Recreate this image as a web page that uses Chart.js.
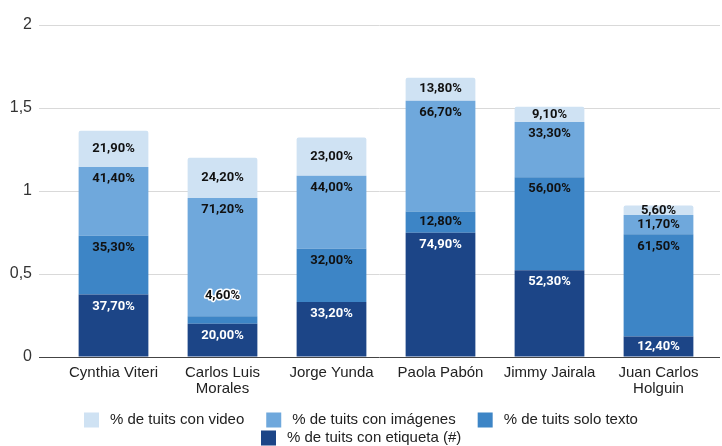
<!DOCTYPE html>
<html>
<head>
<meta charset="utf-8">
<script src="https://cdn.jsdelivr.net/npm/chart.js@4.4.1/dist/chart.umd.min.js"></script>
<style>
  html, body { margin: 0; padding: 0; background: #fff; }
  #wrap { width: 722px; height: 446px; }
</style>
</head>
<body>
<div id="wrap"><canvas id="barChart"></canvas></div>
<script>
// Datos del grafico
const candidatos = ['Cynthia Viteri', ['Carlos Luis', 'Morales'], 'Jorge Yunda', 'Paola Pabón', 'Jimmy Jairala', ['Juan Carlos', 'Holguin']];
const conEtiqueta = [0.377, 0.200, 0.332, 0.749, 0.523, 0.124];
const soloTexto = [0.353, 0.046, 0.320, 0.128, 0.560, 0.615];
const conImagenes = [0.414, 0.712, 0.440, 0.667, 0.333, 0.117];
const conVideo = [0.219, 0.242, 0.230, 0.138, 0.091, 0.056];
const yTicks = [0, 0.5, 1, 1.5, 2];

const fontAxis = '"Liberation Sans", Arial, sans-serif';

function pct(v) {
    return (v * 100).toFixed(2).replace('.', ',') + '%';
}

// lineas de la grilla, desde el borde del eje hasta el borde derecho
const gridPlugin = {
    id: 'gridLines',
    beforeDatasetsDraw(chart) {
        const ctx = chart.ctx;
        const y = chart.scales.y;
        const area = chart.chartArea;
        ctx.save();
        yTicks.forEach(function (t) {
            const py = Math.round(y.getPixelForValue(t)) + 0.5;
            ctx.strokeStyle = t === 0 ? '#444' : '#d9d9d9';
            ctx.lineWidth = 1;
            ctx.beginPath();
            ctx.moveTo(area.left - 20, py);
            ctx.lineTo(chart.width - 2, py);
            ctx.stroke();
        });
        ctx.restore();
    }
};

// etiquetas de valores dentro de las barras
const labelPlugin = {
    id: 'barLabels',
    afterDatasetsDraw(chart) {
        const ctx = chart.ctx;
        const last = chart.data.datasets.length - 1;
        ctx.save();
        ctx.font = 'bold 13px Roboto, "Liberation Sans", sans-serif';
        ctx.textAlign = 'center';
        ctx.textBaseline = 'middle';
        chart.data.datasets.forEach(function (ds, i) {
            const meta = chart.getDatasetMeta(i);
            meta.data.forEach(function (bar, j) {
                const h = bar.base - bar.y;
                const txt = pct(ds.data[j]);
                let ty;
                let halo = false;
                if (i === last) {
                    ty = bar.y + h / 2;
                } else if (h < 14) {
                    ty = bar.y - 20;
                    halo = true;
                } else {
                    ty = bar.y + Math.min(12, h / 2);
                }
                if (halo) {
                    ctx.lineWidth = 3;
                    ctx.strokeStyle = '#fff';
                    ctx.lineJoin = 'round';
                    ctx.strokeText(txt, bar.x, ty);
                }
                ctx.fillStyle = ds.labelColor;
                ctx.fillText(txt, bar.x, ty);
            });
        });
        ctx.restore();
    }
};

// leyenda dibujada abajo
const legendPlugin = {
    id: 'bottomLegend',
    afterDraw(chart) {
        const ctx = chart.ctx;
        const items = chart.data.datasets.slice().reverse();
        const box = 15, gapText = 11, gapItem = 22, maxRow = 620;
        ctx.save();
        ctx.font = '15px ' + fontAxis;
        ctx.textBaseline = 'middle';
        const rows = [[]];
        let rowW = 0;
        items.forEach(function (ds) {
            const w = box + gapText + ctx.measureText(ds.label).width;
            if (rows[rows.length - 1].length && rowW + gapItem + w > maxRow) {
                rows.push([]);
                rowW = 0;
            }
            rowW += (rowW ? gapItem : 0) + w;
            rows[rows.length - 1].push({ ds: ds, w: w });
        });
        let cy = chart.chartArea.bottom + 63;
        rows.forEach(function (row) {
            const total = row.reduce(function (s, it) { return s + it.w; }, 0) + gapItem * (row.length - 1);
            let x = Math.round(chart.width / 2 - total / 2);
            row.forEach(function (it) {
                ctx.fillStyle = it.ds.backgroundColor;
                ctx.fillRect(x, cy - box / 2, box, box);
                ctx.fillStyle = '#222';
                ctx.fillText(it.ds.label, x + box + gapText, cy);
                x += it.w + gapItem;
            });
            cy += 18;
        });
        ctx.restore();
    }
};

const ctx = document.getElementById('barChart').getContext('2d');
const myChart = new Chart(ctx, {
    type: 'bar',
    data: {
        labels: candidatos,
        datasets: [{
            label: '% de tuits con etiqueta (#)',
            data: conEtiqueta,
            backgroundColor: '#1c4587',
            labelColor: '#fff'
        }, {
            label: '% de tuits solo texto',
            data: soloTexto,
            backgroundColor: '#3d85c6',
            labelColor: '#111'
        }, {
            label: '% de tuits con imágenes',
            data: conImagenes,
            backgroundColor: '#6fa8dc',
            labelColor: '#111'
        }, {
            label: '% de tuits con video',
            data: conVideo,
            backgroundColor: '#cfe2f3',
            labelColor: '#111',
            borderRadius: { topLeft: 2, topRight: 2, bottomLeft: 0, bottomRight: 0 },
            borderSkipped: false
        }]
    },
    options: {
        responsive: true,
        maintainAspectRatio: false,
        animation: false,
        categoryPercentage: 1,
        barPercentage: 0.64,
        layout: {
            padding: { top: 25, right: 9, left: 0, bottom: 0 }
        },
        plugins: {
            legend: { display: false },
            tooltip: { enabled: false }
        },
        scales: {
            x: {
                stacked: true,
                grid: { display: false, drawTicks: false },
                border: { display: false },
                ticks: {
                    color: '#222',
                    padding: 8,
                    font: { family: fontAxis, size: 15, lineHeight: 1.05 }
                },
                afterFit(scale) { scale.height = 89; }
            },
            y: {
                stacked: true,
                min: 0,
                max: 2,
                // grilla transparente: solo reserva el espacio de las marcas
                grid: { color: 'rgba(0,0,0,0)', drawTicks: true, tickLength: 19 },
                border: { display: false },
                afterBuildTicks(scale) {
                    scale.ticks = yTicks.map(function (v) { return { value: v }; });
                },
                ticks: {
                    color: '#333',
                    padding: 8,
                    font: { family: fontAxis, size: 16 },
                    callback: function (v) { return String(v).replace('.', ','); }
                },
                afterFit(scale) { scale.width = 59; }
            }
        }
    },
    plugins: [gridPlugin, labelPlugin, legendPlugin]
});
</script>
</body>
</html>
